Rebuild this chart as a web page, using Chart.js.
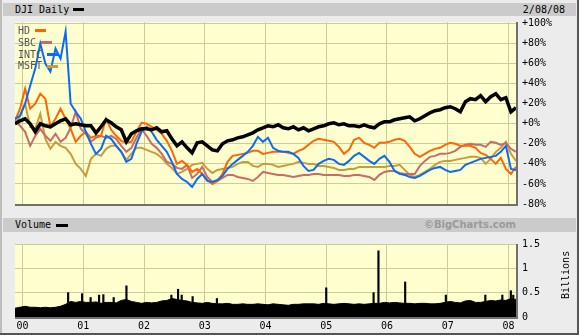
<!DOCTYPE html>
<html>
<head>
<meta charset="utf-8">
<script src="https://cdn.jsdelivr.net/npm/chart.js@4.4.1/dist/chart.umd.min.js"></script>
<style>
  html, body { margin: 0; padding: 0; }
  body { width: 579px; height: 335px; overflow: hidden; position: relative; background: #ececec;
         font-family: "DejaVu Sans Mono", monospace; font-size: 10px; color: #000; }
  #edgeL { position: absolute; left: 0; top: 0; width: 2px; height: 335px; background: #bdbdbd; }
  #edgeR { position: absolute; right: 0; top: 0; width: 2px; height: 335px; background: #555; }
  #edgeB { position: absolute; left: 0; bottom: 0; width: 579px; height: 2px; background: #555; }
  .head { position: absolute; left: 3px; width: 573px; background: #cbcbcb; }
  .txt { position: absolute; white-space: nowrap; }
  .sw { position: absolute; height: 3px; }
  canvas { position: absolute; left: 0; }
</style>
</head>
<body>
<div id="edgeL"></div><div id="edgeR"></div><div id="edgeB"></div>
<div class="head" style="top:3px;height:13px;"></div>
<div class="txt" style="left:15px;top:3px;line-height:13px;">DJI Daily</div>
<div class="sw" style="left:73px;top:8px;width:11px;background:#000;"></div>
<div class="txt" style="right:14px;top:3px;line-height:13px;">2/08/08</div>

<div class="head" style="top:218px;height:14px;"></div>
<div class="txt" style="left:15px;top:218px;line-height:14px;">Volume</div>
<div class="sw" style="left:56px;top:224px;width:12px;background:#000;"></div>
<div class="txt" style="right:63px;top:218px;line-height:14px;font-family:'DejaVu Sans',sans-serif;font-weight:bold;color:#9a9a9a;">©BigCharts.com</div>

<canvas id="top" width="579" height="216" style="top:0;"></canvas>
<canvas id="vol" width="579" height="103" style="top:232px;"></canvas>

<div class="txt" style="left:18px;top:25px;line-height:12px;color:#555;">HD</div>
<div class="sw" style="left:35px;top:29px;width:11px;background:#ff6600;"></div>
<div class="txt" style="left:18px;top:37px;line-height:12px;color:#555;">SBC</div>
<div class="sw" style="left:41px;top:41px;width:11px;background:#cc6a6a;"></div>
<div class="txt" style="left:18px;top:49px;line-height:12px;color:#555;">INTC</div>
<div class="sw" style="left:47px;top:53px;width:11px;background:#0a6cf5;"></div>
<div class="txt" style="left:18px;top:60px;line-height:12px;color:#555;">MSFT</div>
<div class="sw" style="left:47px;top:65px;width:11px;background:#cc9a3a;"></div>

<div class="txt" style="left:542px;top:269px;width:48px;text-align:center;line-height:12px;transform:rotate(-90deg);">Billions</div>

<script>
// monthly closes, % change since start (Nov 1999 .. Feb 2008)
const startYear = 1999.875;
const djia = [0, 3, 5, 0, -8, 0, -2, -3, 0, 3, 5, -1, 0, -1, -2, -2, -9, -3, 4, 1,
  -3, -6, -18, -10, -7, -5, -5, -6, -4, -8, -7, -15, -22, -18, -24, -29, -19, -18, -22, -26,
  -27, -20, -17, -16, -14, -13, -11, -9, -6, -4, -2, -3, -1, -4, -5, -3, -6, -4, -7, -5,
  -3, -2, 0, 1, -1, 0, -2, -2, -3, -1, -3, -4, 0, 2, 2, 4, 5, 6, 7, 3,
  5, 8, 11, 13, 14, 16, 17, 15, 12, 22, 25, 24, 28, 22, 27, 30, 24, 26, 12, 16];
const intc = [5, 8, 20, 38, 55, 80, 60, 52, 75, 65, 92, 20, 12, 5, -8, -20, -30, -25, -12, -15,
  -22, -28, -38, -35, -20, -8, -3, -8, -16, -22, -28, -38, -50, -55, -58, -63, -55, -50, -57, -58,
  -56, -52, -45, -40, -36, -32, -28, -22, -13, -18, -14, -24, -27, -28, -28, -30, -34, -42, -47, -46,
  -40, -37, -35, -36, -40, -41, -37, -32, -29, -33, -37, -40, -35, -32, -38, -47, -50, -51, -53, -54,
  -52, -49, -46, -44, -43, -46, -48, -47, -46, -41, -39, -37, -35, -34, -33, -32, -28, -22, -45, -46];
const hd = [3, 15, 35, 15, 20, 30, 25, -3, 5, 15, 5, -5, -18, -12, -8, -14, -12, -12, 5, -6,
  -12, -17, -19, -18, -8, 1, 0, -3, -6, -10, -17, -27, -40, -37, -41, -48, -45, -50, -56, -60,
  -57, -50, -38, -32, -31, -30, -29, -27, -27, -30, -29, -28, -28, -28, -29, -30, -27, -25, -21, -17,
  -15, -16, -17, -18, -23, -30, -26, -16, -14, -19, -21, -24, -19, -19, -18, -16, -15, -17, -23, -30,
  -33, -30, -27, -25, -24, -21, -19, -20, -22, -22, -22, -24, -29, -31, -35, -40, -34, -45, -50, -43];
const sbc = [3, -2, -8, -22, -12, -5, -12, -17, -10, -18, -14, -4, 12, -5, -10, -18, -14, -12, -14, -12,
  -15, -22, -28, -24, -14, -5, -12, -20, -24, -30, -38, -40, -44, -45, -41, -54, -50, -43, -53, -58,
  -57, -54, -51, -51, -53, -54, -55, -57, -53, -48, -49, -50, -51, -51, -52, -53, -52, -51, -51, -50,
  -50, -51, -51, -51, -51, -52, -52, -51, -51, -52, -53, -56, -51, -48, -47, -47, -49, -50, -50, -50,
  -42, -37, -33, -32, -30, -30, -29, -27, -23, -21, -20, -21, -21, -23, -18, -19, -21, -19, -25, -28];
const msft = [-1, 8, 20, -3, -5, 10, -15, -25, -18, -22, -24, -30, -40, -45, -52, -35, -30, -32, -25, -22,
  -22, -28, -36, -30, -24, -24, -26, -28, -30, -34, -40, -44, -50, -48, -45, -41, -40, -39, -45, -49,
  -46, -45, -44, -43, -40, -38, -38, -42, -43, -40, -40, -41, -43, -42, -41, -40, -38, -39, -40, -40,
  -42, -42, -43, -44, -46, -46, -45, -45, -43, -43, -43, -43, -43, -43, -42, -42, -41, -46, -51, -53,
  -51, -48, -45, -41, -38, -37, -37, -36, -35, -34, -33, -33, -34, -40, -35, -28, -24, -18, -30, -37];

// volume, billions of shares
const volume = [0.18, 0.2, 0.22, 0.2, 0.2, 0.19, 0.2, 0.19, 0.2, 0.22, 0.26, 0.32, 0.3, 0.32, 0.3, 0.3, 0.31, 0.28, 0.3, 0.3,
  0.29, 0.34, 0.36, 0.32, 0.3, 0.28, 0.3, 0.29, 0.3, 0.33, 0.34, 0.38, 0.36, 0.34, 0.33, 0.3, 0.29, 0.28, 0.3, 0.28,
  0.27, 0.27, 0.28, 0.26, 0.26, 0.27, 0.26, 0.26, 0.27, 0.26, 0.25, 0.27, 0.26, 0.25, 0.24, 0.26, 0.26, 0.27, 0.27, 0.27,
  0.26, 0.28, 0.27, 0.26, 0.27, 0.28, 0.27, 0.26, 0.27, 0.26, 0.27, 0.28, 0.28, 0.3, 0.29, 0.3, 0.29, 0.28, 0.28, 0.27,
  0.28, 0.28, 0.27, 0.27, 0.28, 0.3, 0.32, 0.3, 0.29, 0.33, 0.34, 0.3, 0.3, 0.32, 0.34, 0.33, 0.35, 0.34, 0.38, 0.36];
const spikeDates = [2000.75, 2000.98, 2001.12, 2001.26, 2001.33, 2001.5, 2001.71, 2002.45, 2002.56, 2002.62, 2002.8,
  2003.2, 2005.0, 2005.78, 2005.86, 2006.3, 2006.97, 2007.62, 2007.9, 2008.04, 2008.08];
const spikeVols = [0.5, 0.48, 0.4, 0.45, 0.46, 0.4, 0.64, 0.45, 0.57, 0.45, 0.42,
  0.38, 0.6, 0.5, 1.36, 0.72, 0.45, 0.45, 0.45, 0.54, 0.45];

const years = [2000, 2001, 2002, 2003, 2004, 2005, 2006, 2007, 2008];
const yearLabels = ["00", "01", "02", "03", "04", "05", "06", "07", "08"];
const pctTicks = [-80, -60, -40, -20, 0, 20, 40, 60, 80, 100];
const volTicks = [0, 0.5, 1, 1.5];
const volTickLabels = ["0", "0.5", "1", "1.5"];

const months = djia.map((v, i) => startYear + i / 12);
const pts = (arr) => arr.map((v, i) => ({ x: months[i], y: v }));

const GRID = "#cccc96";
const FONT = { family: "DejaVu Sans Mono", size: 10 };

const plotFrame = {
  id: "plotFrame",
  beforeDraw(chart) {
    const { ctx, chartArea: a } = chart;
    ctx.save();
    ctx.fillStyle = "#fefecf";
    ctx.fillRect(a.left, a.top, a.right - a.left, a.bottom - a.top);
    ctx.restore();
  },
  afterDraw(chart) {
    const { ctx, chartArea: a } = chart;
    ctx.save();
    ctx.strokeStyle = "#707070";
    ctx.lineWidth = 2;
    ctx.beginPath();
    ctx.moveTo(a.left, a.bottom + 1);
    ctx.lineTo(a.right + 1, a.bottom + 1);
    ctx.lineTo(a.right + 1, a.top);
    ctx.stroke();
    ctx.restore();
  }
};

function xAxis(showLabels) {
  return {
    type: "linear",
    offset: false,
    min: startYear,
    max: startYear + 99 / 12,
    afterBuildTicks: (s) => { s.ticks = years.map((v) => ({ value: v })); },
    afterFit: (s) => { s.height = showLabels ? 18 : 0; },
    border: { display: false },
    grid: { color: GRID, drawTicks: false, offset: false },
    ticks: {
      display: showLabels,
      padding: 3,
      color: "#000",
      font: FONT,
      maxRotation: 0,
      autoSkip: false,
      callback: (v) => yearLabels[years.indexOf(v)]
    }
  };
}

new Chart(document.getElementById("top"), {
  type: "line",
  data: {
    datasets: [
      { label: "DJI", data: pts(djia), borderColor: "#000", borderWidth: 3.5 },
      { label: "INTC", data: pts(intc), borderColor: "#0a6cf5", borderWidth: 2 },
      { label: "HD", data: pts(hd), borderColor: "#ff6600", borderWidth: 2 },
      { label: "SBC", data: pts(sbc), borderColor: "#cc6a6a", borderWidth: 2 },
      { label: "MSFT", data: pts(msft), borderColor: "#cc9a3a", borderWidth: 2 }
    ]
  },
  options: {
    responsive: false,
    animation: false,
    layout: { padding: { left: 15, top: 22, bottom: 8, right: 0 } },
    elements: { point: { radius: 0 }, line: { tension: 0 } },
    plugins: { legend: { display: false }, tooltip: { enabled: false } },
    scales: {
      x: xAxis(false),
      y: {
        position: "right",
        min: -80,
        max: 101.5,
        afterBuildTicks: (s) => { s.ticks = pctTicks.map((v) => ({ value: v })); },
        afterFit: (s) => { s.width = 63; },
        border: { display: false },
        grid: { color: GRID, drawTicks: false },
        ticks: {
          padding: 6,
          color: "#000",
          font: FONT,
          callback: (v) => (v >= 0 ? "+" : "") + v + "%"
        }
      }
    }
  },
  plugins: [plotFrame]
});

new Chart(document.getElementById("vol"), {
  data: {
    datasets: [
      { type: "bar", label: "spikes", data: spikeDates.map((d, i) => ({ x: d, y: spikeVols[i] })),
        backgroundColor: "#000", barThickness: 1.5, grouped: false },
      { type: "line", label: "Volume", data: pts(volume), borderColor: "#000", borderWidth: 1,
        backgroundColor: "#000", fill: "origin", pointRadius: 0, tension: 0 }
    ]
  },
  options: {
    responsive: false,
    animation: false,
    layout: { padding: { left: 15, top: 7, bottom: 0, right: 0 } },
    plugins: { legend: { display: false }, tooltip: { enabled: false } },
    scales: {
      x: xAxis(true),
      y: {
        position: "right",
        min: 0,
        max: 1.5,
        afterBuildTicks: (s) => { s.ticks = volTicks.map((v) => ({ value: v })); },
        afterFit: (s) => { s.width = 63; },
        border: { display: false },
        grid: { color: GRID, drawTicks: false },
        ticks: {
          padding: 6,
          color: "#000",
          font: FONT,
          callback: (v) => volTickLabels[volTicks.indexOf(v)]
        }
      }
    }
  },
  plugins: [plotFrame]
});
</script>
</body>
</html>
